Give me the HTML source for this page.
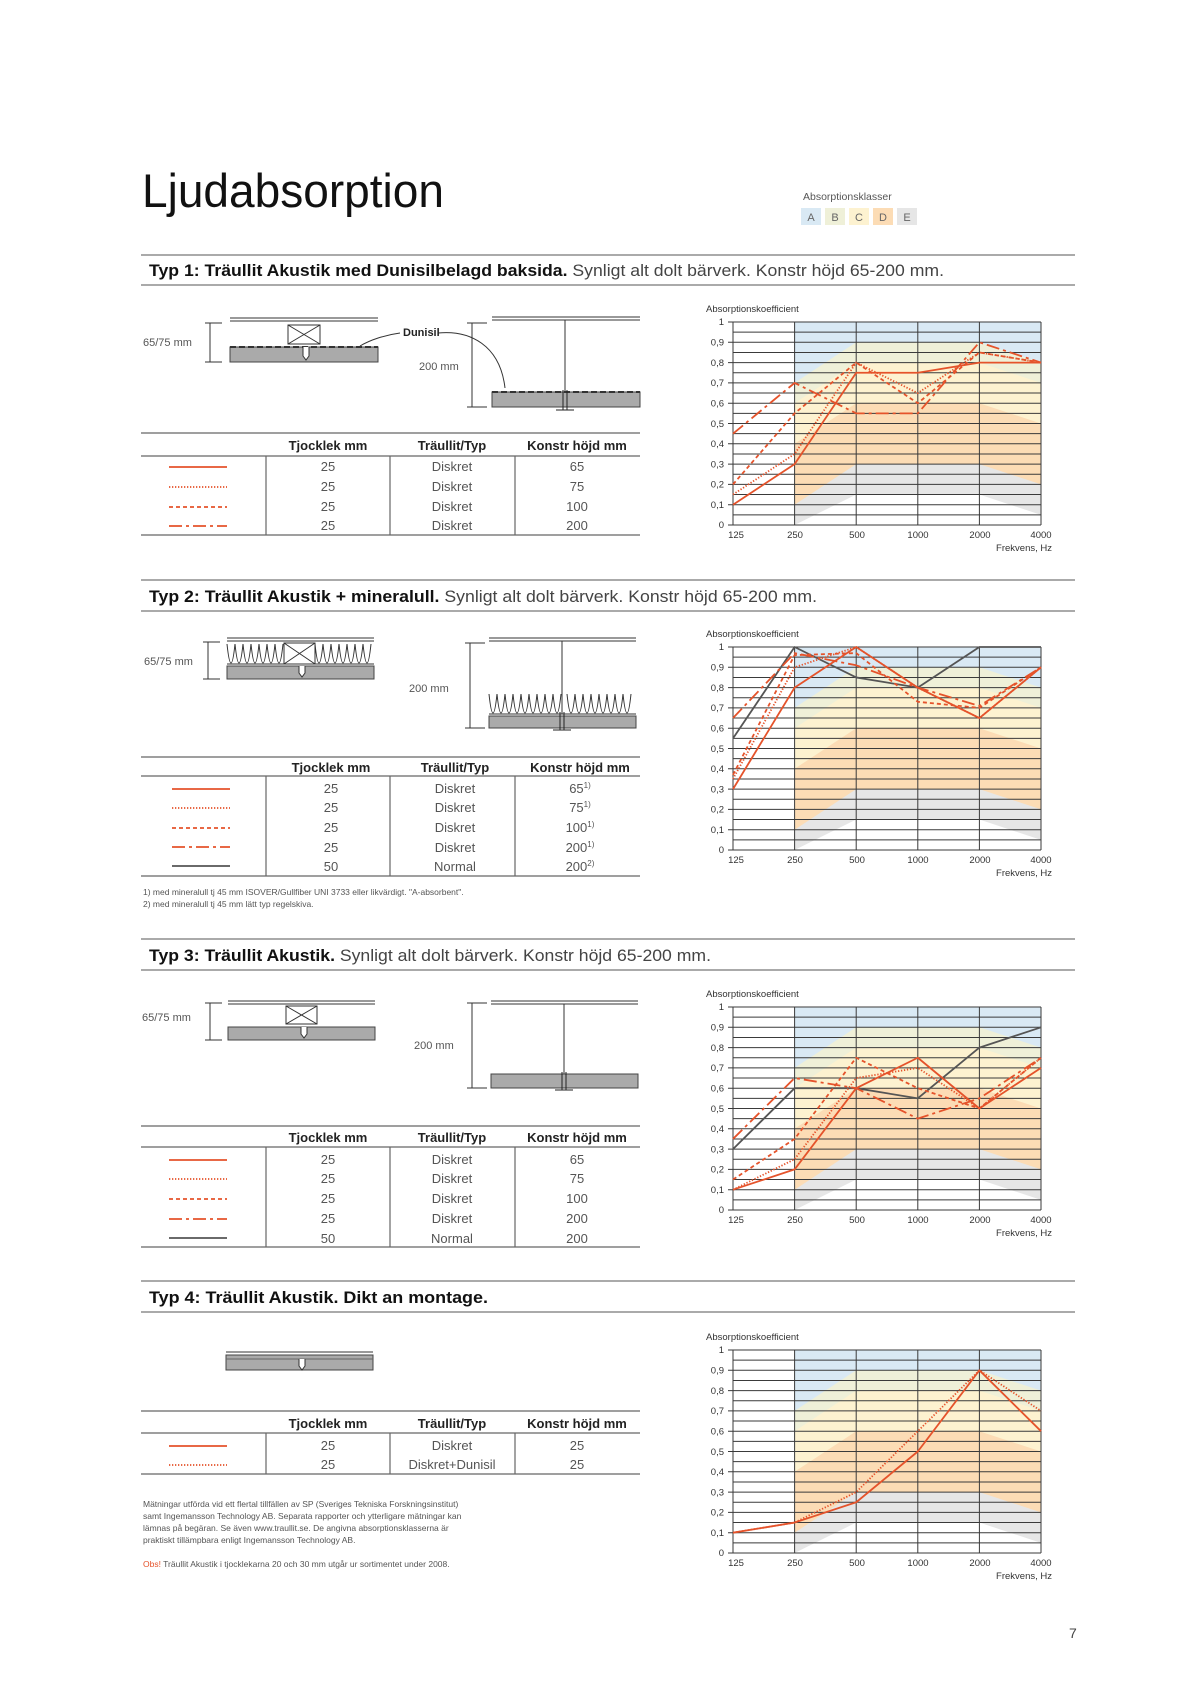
<!DOCTYPE html>
<html><head><meta charset="utf-8"><style>
html,body{margin:0;padding:0;background:#fff}
svg{display:block}
text{font-family:"Liberation Sans",sans-serif}
</style></head><body>
<svg width="1190" height="1684" viewBox="0 0 1190 1684" xmlns="http://www.w3.org/2000/svg">
<defs>
<g id="bg">
<rect x="733" y="0" width="308" height="203" fill="#fff"/>
<rect x="794.6" y="0" width="246.4" height="203" fill="#d9e9f4"/>
<polygon points="794.6,60.9 856.2,20.3 979.4,20.3 1041,40.6 1041,203 794.6,203" fill="#eff0d8"/>
<polygon points="794.6,81.2 856.2,40.6 979.4,40.6 1041,60.9 1041,203 794.6,203" fill="#fdf2d0"/>
<polygon points="794.6,121.8 856.2,81.2 979.4,81.2 1041,101.5 1041,203 794.6,203" fill="#fcdcb5"/>
<polygon points="794.6,182.7 856.2,142.1 979.4,142.1 1041,162.4 1041,203 794.6,203" fill="#e6e6e6"/>
<polygon points="794.6,203 856.2,172.55 979.4,172.55 1041,192.85 1041,203" fill="#fff"/>
<g stroke="#3a3a3a" stroke-width="1">
<path d="M733 0H1041M733 10.15H1041M733 20.3H1041M733 30.45H1041M733 40.6H1041M733 50.75H1041M733 60.9H1041M733 71.05H1041M733 81.2H1041M733 91.35H1041M733 101.5H1041M733 111.65H1041M733 121.8H1041M733 131.95H1041M733 142.1H1041M733 152.25H1041M733 162.4H1041M733 172.55H1041M733 182.7H1041M733 192.85H1041M733 203H1041"/>
<path d="M733 0V203M794.6 0V203M856.2 0V203M917.8 0V203M979.4 0V203M1041 0V203"/>
<path d="M728 0H733M728 20.3H733M728 40.6H733M728 60.9H733M728 81.2H733M728 101.5H733M728 121.8H733M728 142.1H733M728 162.4H733M728 182.7H733M728 203H733"/>
</g>
</g>
</defs>

<text x="142" y="207" font-size="47" fill="#111" textLength="302" lengthAdjust="spacingAndGlyphs">Ljudabsorption</text>
<text x="803" y="200" font-size="10.5" fill="#555">Absorptionsklasser</text>
<rect x="801" y="208" width="20" height="17" fill="#d9e9f4"/>
<rect x="825" y="208" width="20" height="17" fill="#eff0d8"/>
<rect x="849" y="208" width="20" height="17" fill="#fdf2d0"/>
<rect x="873" y="208" width="20" height="17" fill="#fcdcb5"/>
<rect x="897" y="208" width="20" height="17" fill="#e6e6e6"/>
<g font-size="11" fill="#666" text-anchor="middle"><text x="811" y="221">A</text><text x="835" y="221">B</text><text x="859" y="221">C</text><text x="883" y="221">D</text><text x="907" y="221">E</text></g>

<g stroke="#777" stroke-width="1.2">
<path d="M141 255H1075M141 285H1075M141 580H1075M141 611H1075M141 939H1075M141 970H1075M141 1281H1075M141 1312H1075"/>
</g>
<text x="149" y="276" font-size="16.5" fill="#111" textLength="795" lengthAdjust="spacingAndGlyphs"><tspan font-weight="bold">Typ 1: Träullit Akustik med Dunisilbelagd baksida.</tspan><tspan fill="#444"> Synligt alt dolt bärverk. Konstr höjd 65-200 mm.</tspan></text>
<text x="149" y="602" font-size="16.5" fill="#111" textLength="668" lengthAdjust="spacingAndGlyphs"><tspan font-weight="bold">Typ 2: Träullit Akustik + mineralull.</tspan><tspan fill="#444"> Synligt alt dolt bärverk. Konstr höjd 65-200 mm.</tspan></text>
<text x="149" y="961" font-size="16.5" fill="#111" textLength="562" lengthAdjust="spacingAndGlyphs"><tspan font-weight="bold">Typ 3: Träullit Akustik.</tspan><tspan fill="#444"> Synligt alt dolt bärverk. Konstr höjd 65-200 mm.</tspan></text>
<text x="149" y="1303" font-size="16.5" fill="#111" font-weight="bold" textLength="339" lengthAdjust="spacingAndGlyphs">Typ 4: Träullit Akustik. Dikt an montage.</text>

<g stroke="#333" stroke-width="1" fill="none">
<path d="M230 318H378M230 321H378"/>
<rect x="288" y="325" width="32" height="19"/><path d="M288 325L320 344M320 325L288 344"/>
<path d="M210 323V362M205 323H222M205 362H222"/>
<path d="M472 323V407M467 323H487M467 407H487"/>
<path d="M492 317H640M492 320H640M565 320V405"/>
<path d="M438 333C470 330 500 345 505 388" /><path d="M400 333C385 335 370 340 360 346"/>
</g>
<rect x="230" y="347" width="148" height="15" fill="#aaa" stroke="#444"/>
<path d="M230 347H378" stroke="#333" stroke-width="2" stroke-dasharray="6 3"/>
<path d="M303 347V356L306 360L309 356V347" stroke="#333" fill="#fff"/>
<rect x="492" y="392" width="148" height="15" fill="#aaa" stroke="#444"/>
<path d="M492 392H640" stroke="#333" stroke-width="2" stroke-dasharray="6 3"/>
<path d="M563 390V410M567 390V410M556 410H574" stroke="#222"/>
<text x="143" y="346" font-size="11" fill="#555">65/75 mm</text>
<text x="403" y="336" font-size="11" font-weight="bold" fill="#222">Dunisil</text>
<text x="419" y="370" font-size="11" fill="#555">200 mm</text>

<g stroke="#333" stroke-width="1" fill="none">
<path d="M227 638H374M227 641H374"/>
<path d="M208 642V679M203 642H220M203 679H220"/>
<path d="M227 644 q4 38 8 0 q4 38 8 0 q4 38 8 0 q4 38 8 0 q4 38 8 0 q4 38 8 0 q4 38 8 0M315 644 q4 38 8 0 q4 38 8 0 q4 38 8 0 q4 38 8 0 q4 38 8 0 q4 38 8 0 q4 38 8 0"/>
<rect x="284" y="643" width="31" height="21"/><path d="M284 643L315 664M315 643L284 664"/>
<path d="M227 664H374"/>
<path d="M470 643V728M465 643H485M465 728H485"/>
<path d="M489 638H636M489 641H636M562 641V714"/>
<path d="M489 694 q4 38 8 0 q4 38 8 0 q4 38 8 0 q4 38 8 0 q4 38 8 0 q4 38 8 0 q4 38 8 0 q4 38 8 0 q4 38 8 0M567 694 q4 38 8 0 q4 38 8 0 q4 38 8 0 q4 38 8 0 q4 38 8 0 q4 38 8 0 q4 38 8 0 q4 38 8 0"/>
<path d="M489 714H636"/>
</g>
<rect x="227" y="666" width="147" height="13" fill="#aaa" stroke="#444"/>
<path d="M299 666V673L302 677L305 673V666" stroke="#333" fill="#fff"/>
<rect x="489" y="716" width="147" height="12" fill="#aaa" stroke="#444"/>
<path d="M560 712V730M564 712V730M553 730H571" stroke="#222"/>
<text x="144" y="665" font-size="11" fill="#555">65/75 mm</text>
<text x="409" y="692" font-size="11" fill="#555">200 mm</text>

<g stroke="#333" stroke-width="1" fill="none">
<path d="M228 1001H375M228 1004H375"/>
<rect x="286" y="1006" width="31" height="18"/><path d="M286 1006L317 1024M317 1006L286 1024"/>
<path d="M210 1003V1040M205 1003H222M205 1040H222"/>
<path d="M472 1003V1088M467 1003H487M467 1088H487"/>
<path d="M491 1001H638M491 1004H638M564 1004V1085"/>
</g>
<rect x="228" y="1027" width="147" height="13" fill="#aaa" stroke="#444"/>
<path d="M301 1027V1034L304 1038L307 1034V1027" stroke="#333" fill="#fff"/>
<rect x="491" y="1074" width="147" height="14" fill="#aaa" stroke="#444"/>
<path d="M562 1072V1090M566 1072V1090M555 1090H573" stroke="#222"/>
<text x="142" y="1021" font-size="11" fill="#555">65/75 mm</text>
<text x="414" y="1049" font-size="11" fill="#555">200 mm</text>

<path d="M226 1352H373" stroke="#333"/>
<rect x="226" y="1355" width="147" height="15" fill="#aaa" stroke="#444"/>
<path d="M226 1359H373" stroke="#666"/>
<path d="M299 1359V1366L302 1370L305 1366V1359" stroke="#333" fill="#fff"/>

<g stroke="#666" stroke-width="1.2">
<path d="M141 433H640M141 456H640M141 535H640M266 456V535M390 456V535M515 456V535"/>
<path d="M141 757H640M141 776H640M141 876H640M266 776V876M390 776V876M515 776V876"/>
<path d="M141 1126H640M141 1147H640M141 1247H640M266 1147V1247M390 1147V1247M515 1147V1247"/>
<path d="M141 1411H640M141 1433H640M141 1474H640M266 1433V1474M390 1433V1474M515 1433V1474"/>
</g>
<g font-size="13" font-weight="bold" fill="#222" text-anchor="middle">
<text x="328" y="450">Tjocklek mm</text><text x="452" y="450">Träullit/Typ</text><text x="577" y="450">Konstr höjd mm</text>
<text x="331" y="772">Tjocklek mm</text><text x="455" y="772">Träullit/Typ</text><text x="580" y="772">Konstr höjd mm</text>
<text x="328" y="1142">Tjocklek mm</text><text x="452" y="1142">Träullit/Typ</text><text x="577" y="1142">Konstr höjd mm</text>
<text x="328" y="1428">Tjocklek mm</text><text x="452" y="1428">Träullit/Typ</text><text x="577" y="1428">Konstr höjd mm</text>
</g>
<g font-size="13" fill="#555" text-anchor="middle">
<text x="328" y="471">25</text><text x="452" y="471">Diskret</text><text x="577" y="471">65</text>
<text x="328" y="491">25</text><text x="452" y="491">Diskret</text><text x="577" y="491">75</text>
<text x="328" y="511">25</text><text x="452" y="511">Diskret</text><text x="577" y="511">100</text>
<text x="328" y="530">25</text><text x="452" y="530">Diskret</text><text x="577" y="530">200</text>

<text x="331" y="793">25</text><text x="455" y="793">Diskret</text><text x="580" y="793">65<tspan font-size="8" dy="-5">1)</tspan></text>
<text x="331" y="812">25</text><text x="455" y="812">Diskret</text><text x="580" y="812">75<tspan font-size="8" dy="-5">1)</tspan></text>
<text x="331" y="832">25</text><text x="455" y="832">Diskret</text><text x="580" y="832">100<tspan font-size="8" dy="-5">1)</tspan></text>
<text x="331" y="852">25</text><text x="455" y="852">Diskret</text><text x="580" y="852">200<tspan font-size="8" dy="-5">1)</tspan></text>
<text x="331" y="871">50</text><text x="455" y="871">Normal</text><text x="580" y="871">200<tspan font-size="8" dy="-5">2)</tspan></text>

<text x="328" y="1164">25</text><text x="452" y="1164">Diskret</text><text x="577" y="1164">65</text>
<text x="328" y="1183">25</text><text x="452" y="1183">Diskret</text><text x="577" y="1183">75</text>
<text x="328" y="1203">25</text><text x="452" y="1203">Diskret</text><text x="577" y="1203">100</text>
<text x="328" y="1223">25</text><text x="452" y="1223">Diskret</text><text x="577" y="1223">200</text>
<text x="328" y="1243">50</text><text x="452" y="1243">Normal</text><text x="577" y="1243">200</text>

<text x="328" y="1450">25</text><text x="452" y="1450">Diskret</text><text x="577" y="1450">25</text>
<text x="328" y="1469">25</text><text x="452" y="1469">Diskret+Dunisil</text><text x="577" y="1469">25</text>
</g>
<g stroke="#e5532b" stroke-width="1.8">
<path d="M169 467H227"/><path d="M169 487H227" stroke-dasharray="1.3 1.7"/><path d="M169 507H227" stroke-dasharray="4 3"/><path d="M169 526H227" stroke-dasharray="13 4 3 4"/>
<path d="M172 789H230"/><path d="M172 808H230" stroke-dasharray="1.3 1.7"/><path d="M172 828H230" stroke-dasharray="4 3"/><path d="M172 847H230" stroke-dasharray="13 4 3 4"/><path d="M172 866H230" stroke="#555"/>
<path d="M169 1160H227"/><path d="M169 1179H227" stroke-dasharray="1.3 1.7"/><path d="M169 1199H227" stroke-dasharray="4 3"/><path d="M169 1219H227" stroke-dasharray="13 4 3 4"/><path d="M169 1238H227" stroke="#555"/>
<path d="M169 1446H227"/><path d="M169 1465H227" stroke-dasharray="1.3 1.7"/>
</g>
<g font-size="8.5" fill="#555">
<text x="143" y="895">1) med mineralull tj 45 mm ISOVER/Gullfiber UNI 3733 eller likvärdigt. "A-absorbent".</text>
<text x="143" y="907">2) med mineralull tj 45 mm lätt typ regelskiva.</text>
<text x="143" y="1507">Mätningar utförda vid ett flertal tillfällen av SP (Sveriges Tekniska Forskningsinstitut)</text>
<text x="143" y="1519">samt Ingemansson Technology AB. Separata rapporter och ytterligare mätningar kan</text>
<text x="143" y="1531">lämnas på begäran. Se även www.traullit.se. De angivna absorptionsklasserna är</text>
<text x="143" y="1543">praktiskt tillämpbara enligt Ingemansson Technology AB.</text>
<text x="143" y="1567"><tspan fill="#e5532b">Obs!</tspan> Träullit Akustik i tjocklekarna 20 och 30 mm utgår ur sortimentet under 2008.</text>
</g>

<g transform="translate(0,322)">
<use href="#bg"/>
<g font-size="9.5" fill="#333"><text x="706" y="-10">Absorptionskoefficient</text>
<g text-anchor="end"><text x="724" y="3">1</text><text x="724" y="23.6">0,9</text><text x="724" y="43.9">0,8</text><text x="724" y="64.2">0,7</text><text x="724" y="84.5">0,6</text><text x="724" y="104.8">0,5</text><text x="724" y="125.1">0,4</text><text x="724" y="145.4">0,3</text><text x="724" y="165.7">0,2</text><text x="724" y="186">0,1</text><text x="724" y="206">0</text></g>
<g text-anchor="middle"><text x="736" y="216">125</text><text x="795" y="216">250</text><text x="857" y="216">500</text><text x="918" y="216">1000</text><text x="980" y="216">2000</text><text x="1041" y="216">4000</text></g>
<text x="1052" y="229" text-anchor="end">Frekvens, Hz</text></g>
<g fill="none" stroke="#e5532b" stroke-width="1.8" stroke-linejoin="round">
<polyline points="733,182.7 794.6,142.1 856.2,50.75 917.8,50.75 979.4,40.6 1041,40.6"/>
<polyline points="733,172.55 794.6,131.95 856.2,40.6 917.8,71.05 979.4,30.45 1041,40.6" stroke-dasharray="1.3 1.7"/>
<polyline points="733,162.4 794.6,91.35 856.2,40.6 917.8,81.2 979.4,30.45 1041,40.6" stroke-dasharray="4 3"/>
<polyline points="733,111.65 794.6,60.9 856.2,91.35 917.8,91.35 979.4,20.3 1041,40.6" stroke-dasharray="13 4 3 4"/>
</g></g>

<g transform="translate(0,647)">
<use href="#bg"/>
<g font-size="9.5" fill="#333"><text x="706" y="-10">Absorptionskoefficient</text>
<g text-anchor="end"><text x="724" y="3">1</text><text x="724" y="23.6">0,9</text><text x="724" y="43.9">0,8</text><text x="724" y="64.2">0,7</text><text x="724" y="84.5">0,6</text><text x="724" y="104.8">0,5</text><text x="724" y="125.1">0,4</text><text x="724" y="145.4">0,3</text><text x="724" y="165.7">0,2</text><text x="724" y="186">0,1</text><text x="724" y="206">0</text></g>
<g text-anchor="middle"><text x="736" y="216">125</text><text x="795" y="216">250</text><text x="857" y="216">500</text><text x="918" y="216">1000</text><text x="980" y="216">2000</text><text x="1041" y="216">4000</text></g>
<text x="1052" y="229" text-anchor="end">Frekvens, Hz</text></g>
<g fill="none" stroke="#e5532b" stroke-width="1.8" stroke-linejoin="round">
<polyline points="733,91.35 794.6,0 856.2,30.45 917.8,40.6 979.4,0 1041,0" stroke="#555"/>
<polyline points="733,142.1 794.6,40.6 856.2,0 917.8,40.6 979.4,71.05 1041,20.3"/>
<polyline points="733,131.95 794.6,20.3 856.2,0 917.8,40.6 979.4,71.05 1041,20.3" stroke-dasharray="1.3 1.7"/>
<polyline points="733,127.9 794.6,8.1 856.2,6.1 917.8,54.8 979.4,60.9 1041,20.3" stroke-dasharray="4 3"/>
<polyline points="733,71.05 794.6,6.1 856.2,18.3 917.8,40.6 979.4,58.9 1041,20.3" stroke-dasharray="13 4 3 4"/>
</g></g>

<g transform="translate(0,1007)">
<use href="#bg"/>
<g font-size="9.5" fill="#333"><text x="706" y="-10">Absorptionskoefficient</text>
<g text-anchor="end"><text x="724" y="3">1</text><text x="724" y="23.6">0,9</text><text x="724" y="43.9">0,8</text><text x="724" y="64.2">0,7</text><text x="724" y="84.5">0,6</text><text x="724" y="104.8">0,5</text><text x="724" y="125.1">0,4</text><text x="724" y="145.4">0,3</text><text x="724" y="165.7">0,2</text><text x="724" y="186">0,1</text><text x="724" y="206">0</text></g>
<g text-anchor="middle"><text x="736" y="216">125</text><text x="795" y="216">250</text><text x="857" y="216">500</text><text x="918" y="216">1000</text><text x="980" y="216">2000</text><text x="1041" y="216">4000</text></g>
<text x="1052" y="229" text-anchor="end">Frekvens, Hz</text></g>
<g fill="none" stroke="#e5532b" stroke-width="1.8" stroke-linejoin="round">
<polyline points="733,142.1 794.6,81.2 856.2,81.2 917.8,91.35 979.4,40.6 1041,20.3" stroke="#555"/>
<polyline points="733,182.7 794.6,162.4 856.2,81.2 917.8,50.75 979.4,101.5 1041,60.9"/>
<polyline points="733,182.7 794.6,152.25 856.2,71.05 917.8,60.9 979.4,101.5 1041,50.75" stroke-dasharray="1.3 1.7"/>
<polyline points="733,172.55 794.6,131.95 856.2,50.75 917.8,81.2 979.4,101.5 1041,50.75" stroke-dasharray="4 3"/>
<polyline points="733,131.95 794.6,71.05 856.2,81.2 917.8,111.65 979.4,91.35 1041,50.75" stroke-dasharray="13 4 3 4"/>
</g></g>

<g transform="translate(0,1350)">
<use href="#bg"/>
<g font-size="9.5" fill="#333"><text x="706" y="-10">Absorptionskoefficient</text>
<g text-anchor="end"><text x="724" y="3">1</text><text x="724" y="23.6">0,9</text><text x="724" y="43.9">0,8</text><text x="724" y="64.2">0,7</text><text x="724" y="84.5">0,6</text><text x="724" y="104.8">0,5</text><text x="724" y="125.1">0,4</text><text x="724" y="145.4">0,3</text><text x="724" y="165.7">0,2</text><text x="724" y="186">0,1</text><text x="724" y="206">0</text></g>
<g text-anchor="middle"><text x="736" y="216">125</text><text x="795" y="216">250</text><text x="857" y="216">500</text><text x="918" y="216">1000</text><text x="980" y="216">2000</text><text x="1041" y="216">4000</text></g>
<text x="1052" y="229" text-anchor="end">Frekvens, Hz</text></g>
<g fill="none" stroke="#e5532b" stroke-width="1.8" stroke-linejoin="round">
<polyline points="733,182.7 794.6,172.55 856.2,152.25 917.8,101.5 979.4,20.3 1041,81.2"/>
<polyline points="733,182.7 794.6,172.55 856.2,142.1 917.8,81.2 979.4,20.3 1041,60.9" stroke-dasharray="1.3 1.7"/>
</g></g>

<text x="1069" y="1638" font-size="14" fill="#444">7</text>
</svg>
</body></html>
